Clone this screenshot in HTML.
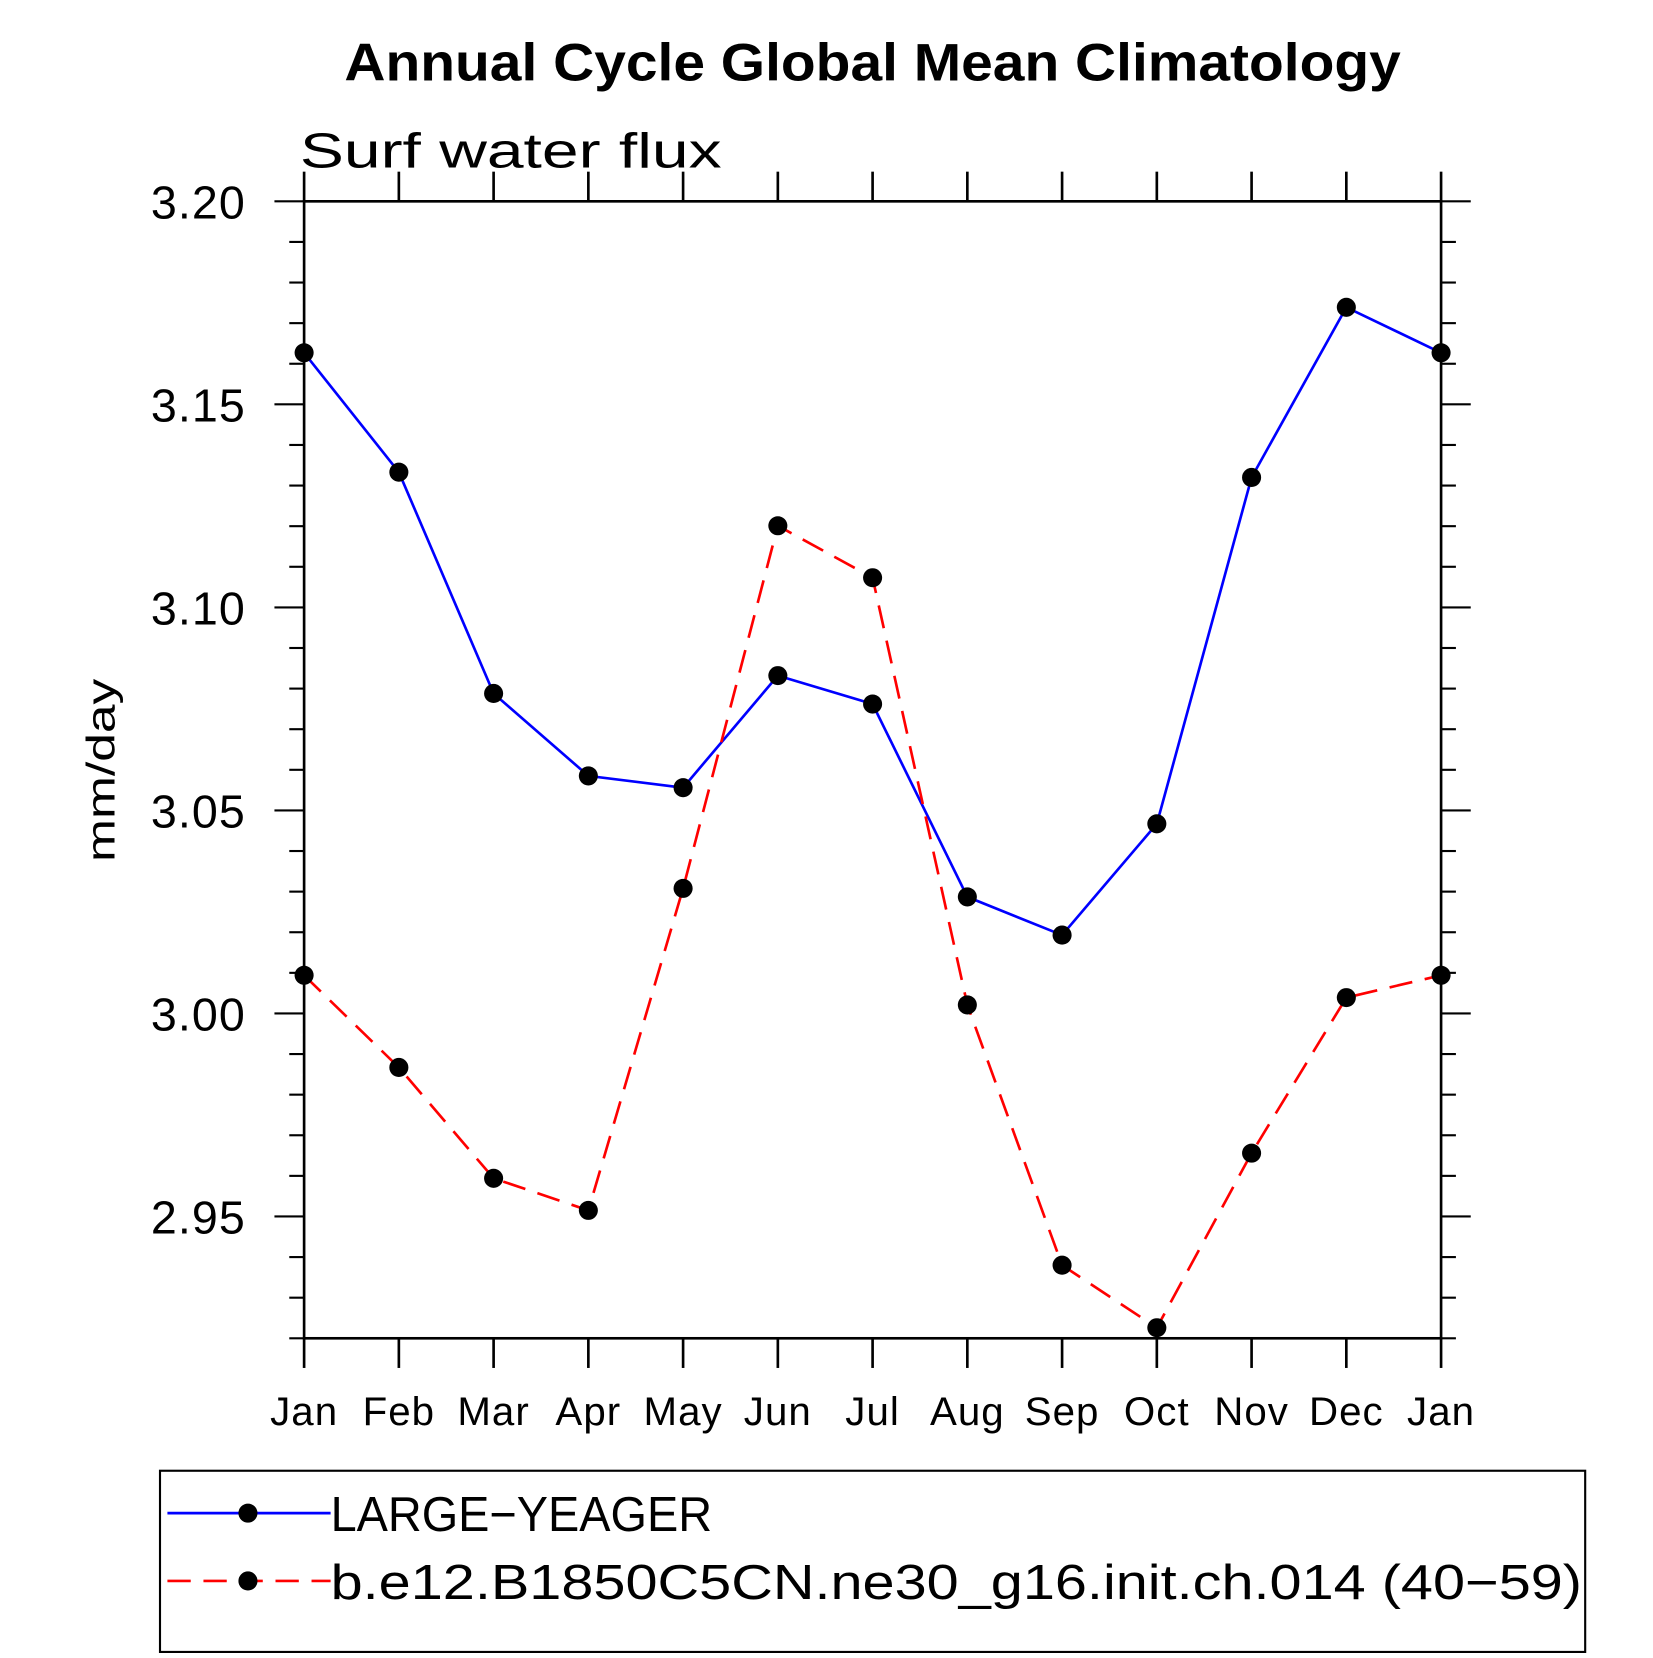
<!DOCTYPE html>
<html><head><meta charset="utf-8"><style>
html,body{margin:0;padding:0;background:#fff}
svg text{font-family:"Liberation Sans",sans-serif}
</style></head><body>
<svg id="chart" width="1653" height="1653" viewBox="0 0 1560 1560" xmlns="http://www.w3.org/2000/svg">
<text x="325" y="76" font-size="50" font-weight="bold" textLength="997" lengthAdjust="spacingAndGlyphs">Annual Cycle Global Mean Climatology</text>
<text x="283" y="158" font-size="46" textLength="398" lengthAdjust="spacingAndGlyphs">Surf water flux</text>
<text transform="translate(108,727) rotate(-90)" text-anchor="middle" font-size="38" textLength="173" lengthAdjust="spacingAndGlyphs">mm/day</text>
<g id="axes"></g>
<g id="series"></g>
<rect x="151" y="1388" width="1345" height="171" fill="none" stroke="#000" stroke-width="2"/>
<line x1="158" y1="1428" x2="312" y2="1428" stroke="#00f" stroke-width="2.5"/>
<circle cx="234" cy="1428" r="9"/>
<text x="312" y="1445" font-size="46" textLength="360" lengthAdjust="spacingAndGlyphs">LARGE−YEAGER</text>
<line x1="158" y1="1492" x2="312" y2="1492" stroke="#f00" stroke-width="2.5" stroke-dasharray="22,12"/>
<circle cx="234" cy="1492" r="9"/>
<text x="312" y="1509" font-size="46" textLength="1181" lengthAdjust="spacingAndGlyphs">b.e12.B1850C5CN.ne30_g16.init.ch.014 (40−59)</text>
</svg>
<script>
const months = ["Jan","Feb","Mar","Apr","May","Jun","Jul","Aug","Sep","Oct","Nov","Dec","Jan"];
const largeYeager = [3.1627,3.1333,3.0788,3.0585,3.0556,3.0832,3.0762,3.0287,3.0193,3.0467,3.1320,3.1739,3.1627];
const modelRun = [3.0094,2.9867,2.9594,2.9515,3.0308,3.1201,3.1073,3.0021,2.9380,2.9226,2.9656,3.0039,3.0094];
const yTicks = [2.95,3.00,3.05,3.10,3.15,3.20];
const yTickLabels = ["2.95","3.00","3.05","3.10","3.15","3.20"];
const yMin = 2.92, yMax = 3.20;

const L=287,R=1360,T=190,B=1263;
const NS="http://www.w3.org/2000/svg";
const x = i => L + (R-L)*i/(months.length-1);
const y = v => B - (B-T)*(v-yMin)/(yMax-yMin);
function mk(tag, attrs, parent){const e=document.createElementNS(NS,tag);for(const k in attrs)e.setAttribute(k,attrs[k]);parent.appendChild(e);return e;}
const axes=document.getElementById('axes'), series=document.getElementById('series');

const frame = mk('rect',{x:L,y:T,width:R-L,height:B-T,fill:'none',stroke:'#000','stroke-width':2.5},axes);



months.forEach((m,i)=>{
  const xi=x(i);
  const t1=mk('line',{x1:xi,y1:B,x2:xi,y2:B+28,stroke:'#000','stroke-width':2.5},axes);
  
  
  const t2=mk('line',{x1:xi,y1:T,x2:xi,y2:T-28,stroke:'#000','stroke-width':2.5},axes);
  
  
  const lb=mk('text',{x:xi,y:1345,'text-anchor':'middle','font-size':38,'letter-spacing':1},axes);
  lb.textContent=m;
  
  
});
for(let k=0;k<=28;k++){
  const v=yMin+k*0.01, yy=y(v);
  const major = yTicks.some(t=>Math.abs(t-v)<1e-6);
  const len = major?28:14;
  const a=mk('line',{x1:L-len,y1:yy,x2:L,y2:yy,stroke:'#000','stroke-width':2},axes);
  
  
  const b=mk('line',{x1:R,y1:yy,x2:R+len,y2:yy,stroke:'#000','stroke-width':2},axes);
  
  
}
yTicks.forEach((t,i)=>{
  const lb=mk('text',{x:232,y:y(t)+16,'text-anchor':'end','font-size':44,'letter-spacing':1},axes);
  lb.textContent=yTickLabels[i];
  
  
});

function draw(vals,color,dash,name){
  const pts=vals.map((v,i)=>x(i)+','+y(v)).join(' ');
  const pl=mk('polyline',{points:pts,fill:'none',stroke:color,'stroke-width':2.5},series);
  if(dash) pl.setAttribute('stroke-dasharray',dash);
  
  
  vals.forEach((v,i)=>{
    const c=mk('circle',{cx:x(i),cy:y(v),r:9,fill:'#000'},series);
    
    
  });
}
draw(largeYeager,'#00f',null,'large-yeager');
draw(modelRun,'#f00','22,12','b-e12');
</script>
</body></html>
